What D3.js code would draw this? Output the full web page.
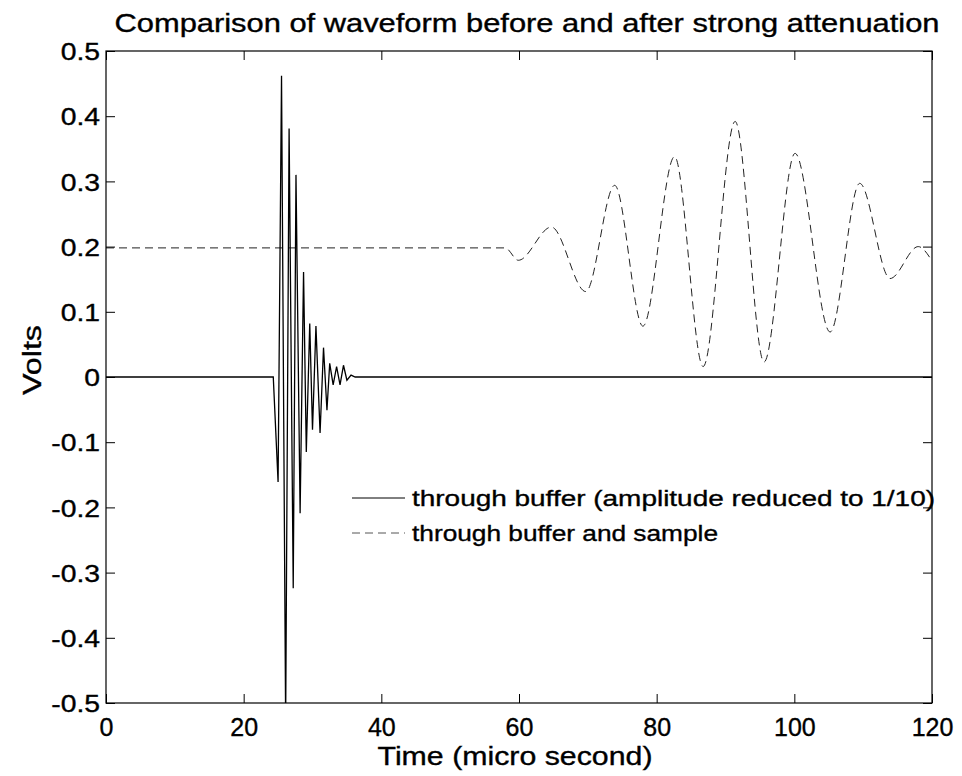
<!DOCTYPE html>
<html>
<head>
<meta charset="utf-8">
<script src="https://cdn.jsdelivr.net/npm/d3@7"></script>
<style>
  html, body { margin: 0; padding: 0; background: #fff; }
  svg text { font-family: "Liberation Sans", Arial, Helvetica, sans-serif; fill: #000; stroke: #000; stroke-width: 0.35px; }
</style>
</head>
<body>
<svg id="chart" width="962" height="776"></svg>
<script>
// ---- data ----
const solidTime  = [0, 24.3, 25.0, 25.5, 26.1, 26.6, 27.2, 27.6, 28.2, 28.7, 29.1, 29.6, 30.0, 30.5, 31.1, 31.6, 32.1, 32.5, 33.0, 33.5, 34.0, 34.5, 35.0, 35.6, 36.2, 120];
const solidValue = [0, 0, -0.161, 0.462, -0.53, 0.381, -0.324, 0.31, -0.209, 0.161, -0.115, 0.082, -0.081, 0.078, -0.086, 0.045, -0.051, 0.021, -0.012, 0.016, -0.012, 0.018, -0.005, 0.003, 0, 0];

const dashTime  = [0, 58.0, 59.9, 64.7, 69.7, 73.9, 78.0, 82.6, 86.75, 91.4, 95.6, 100.1, 105.2, 109.5, 113.9, 118.0, 120];
const dashValue = [0.198, 0.198, 0.179, 0.230, 0.131, 0.294, 0.078, 0.338, 0.016, 0.392, 0.023, 0.343, 0.069, 0.297, 0.151, 0.200, 0.178];

const xTicks = [0, 20, 40, 60, 80, 100, 120];
const yTicks = [-0.5, -0.4, -0.3, -0.2, -0.1, 0, 0.1, 0.2, 0.3, 0.4, 0.5];
const yTickLabels = ["-0.5", "-0.4", "-0.3", "-0.2", "-0.1", "0", "0.1", "0.2", "0.3", "0.4", "0.5"];
const legendLabels = ["through buffer (amplitude reduced to 1/10)", "through buffer and sample"];
const titleText = "Comparison of waveform before and after strong attenuation";
const xLabel = "Time (micro second)";
const yLabel = "Volts";

// ---- layout ----
const svg = d3.select("#chart");
const L = 106, R = 932, T = 51, B = 703;
const x = d3.scaleLinear().domain([0, 120]).range([L, R]);
const y = d3.scaleLinear().domain([-0.5, 0.5]).range([B, T]);

function fit(sel, w) {
  sel.attr("textLength", w).attr("lengthAdjust", "spacingAndGlyphs");
}

svg.append("defs").append("clipPath").attr("id", "plotclip")
  .append("rect").attr("x", L).attr("y", T).attr("width", R - L).attr("height", B - T);

// lines
const plot = svg.append("g").attr("clip-path", "url(#plotclip)");
const solidData = solidTime.map((t, i) => [t, solidValue[i]]);
const dashData = dashTime.map((t, i) => [t, dashValue[i]]);

plot.append("path")
  .datum(dashData)
  .attr("fill", "none").attr("stroke", "#222").attr("stroke-width", 1)
  .attr("stroke-dasharray", "8,5")
  .attr("d", d3.line().x(d => x(d[0])).y(d => y(d[1])).curve(d3.curveMonotoneX));

plot.append("path")
  .datum(solidData)
  .attr("fill", "none").attr("stroke", "#000").attr("stroke-width", 1.3)
  .attr("d", d3.line().x(d => x(d[0])).y(d => y(d[1])));

// box
svg.append("rect").attr("x", L).attr("y", T).attr("width", R - L).attr("height", B - T)
  .attr("fill", "none").attr("stroke", "#000").attr("stroke-width", 1.2);

// axes (ticks inward, MATLAB style)
const tickLen = 9;
const gx = svg.append("g").attr("transform", `translate(0,${B})`)
  .call(d3.axisBottom(x).tickValues(xTicks).tickSizeInner(-tickLen).tickSizeOuter(0));
const gxt = svg.append("g").attr("transform", `translate(0,${T})`)
  .call(d3.axisTop(x).tickValues(xTicks).tickSizeInner(-tickLen).tickSizeOuter(0).tickFormat(""));
const gy = svg.append("g").attr("transform", `translate(${L},0)`)
  .call(d3.axisLeft(y).tickValues(yTicks).tickSizeInner(-tickLen).tickSizeOuter(0)
    .tickFormat((d, i) => yTickLabels[i]));
const gyr = svg.append("g").attr("transform", `translate(${R},0)`)
  .call(d3.axisRight(y).tickValues(yTicks).tickSizeInner(-tickLen).tickSizeOuter(0).tickFormat(""));

[gx, gxt, gy, gyr].forEach(g => {
  g.attr("font-family", null).attr("font-size", null);
  g.select(".domain").remove();
  g.selectAll(".tick line").attr("stroke", "#000").attr("stroke-width", 1);
});
gx.selectAll(".tick text").attr("font-size", 25).attr("dy", null).attr("y", 33);
gy.selectAll(".tick text").attr("font-size", 24).attr("x", -6).attr("dy", "0.36em")
  .each(function () { fit(d3.select(this), this.getComputedTextLength() * 1.18); });

// title and labels
fit(svg.append("text").attr("x", 527).attr("y", 32).attr("text-anchor", "middle")
  .attr("font-size", 25).text(titleText), 825);
fit(svg.append("text").attr("x", 515).attr("y", 765).attr("text-anchor", "middle")
  .attr("font-size", 26).text(xLabel), 275);
fit(svg.append("text").attr("transform", "translate(41,360) rotate(-90)").attr("text-anchor", "middle")
  .attr("font-size", 26).text(yLabel), 70);

// legend
const legY = [498, 533];
const legW = [523, 306];
const leg = svg.append("g");
legendLabels.forEach((lab, i) => {
  leg.append("line").attr("x1", 352).attr("x2", 405).attr("y1", legY[i]).attr("y2", legY[i])
    .attr("stroke", i === 0 ? "#000" : "#555").attr("stroke-width", 1)
    .attr("stroke-dasharray", i === 0 ? null : "8,5");
  fit(leg.append("text").attr("x", 412).attr("y", legY[i]).attr("dy", "0.35em")
    .attr("font-size", 22).text(lab), legW[i]);
});
</script>
</body>
</html>
